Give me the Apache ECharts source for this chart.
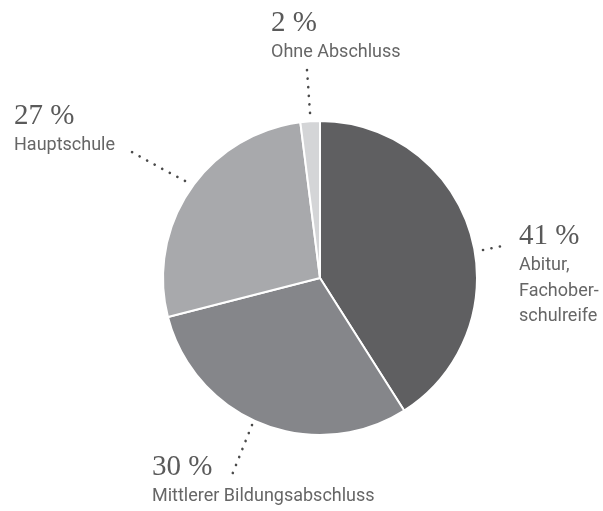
<!DOCTYPE html>
<html>
<head>
<meta charset="utf-8">
<script src="https://cdn.jsdelivr.net/npm/echarts@6/dist/echarts.min.js"></script>
<style>
html,body{margin:0;padding:0;background:#fff;}
#chart{width:603px;height:511px;}
</style>
</head>
<body>
<div id="chart"></div>
<script>
// Data
var categories = ['Abitur, Fachoberschulreife', 'Mittlerer Bildungsabschluss', 'Hauptschule', 'Ohne Abschluss'];
var values = [41, 30, 27, 2];
var labelLines = [['Abitur,', 'Fachober-', 'schulreife'], ['Mittlerer Bildungsabschluss'], ['Hauptschule'], ['Ohne Abschluss']];

// Styles / layout (not data)
var colors = ['#5f5f61', '#85868a', '#a8a9ac', '#d4d5d7'];
var labelPos = [
  {x: 519, y: 220, line: [[483, 250], [495, 247.5], [507, 245]]},
  {x: 152, y: 451, line: [[252, 425], [242, 450], [232, 475]]},
  {x: 14, y: 100, line: [[185, 181], [157, 166], [130, 151]]},
  {x: 271, y: 7, line: [[310, 113], [308.5, 91], [307, 70]]}
];

var chart = echarts.init(document.getElementById('chart'), null, {renderer: 'canvas'});
chart.setOption({
  backgroundColor: '#ffffff',
  animation: false,
  series: [{
    type: 'pie',
    center: [320, 278],
    radius: 157,
    startAngle: 90,
    clockwise: true,
    avoidLabelOverlap: false,
    itemStyle: {borderColor: '#ffffff', borderWidth: 2},
    emphasis: {disabled: true},
    data: categories.map(function (c, i) {
      return {name: c, value: values[i], itemStyle: {color: colors[i]}};
    }),
    label: {
      show: true,
      position: 'outside',
      formatter: function (p) {
        var s = '{p|' + p.value + ' %}';
        labelLines[p.dataIndex].forEach(function (l) { s += '\n{n|' + l + '}'; });
        return s;
      },
      rich: {
        p: {fontFamily: 'Liberation Serif', fontSize: 29, lineHeight: 33, color: '#5a5a5a'},
        n: {fontFamily: 'Roboto', fontSize: 18, lineHeight: 25.5, color: '#666666'}
      }
    },
    labelLine: {
      show: true,
      lineStyle: {color: '#4a4a4a', width: 2.6, type: [0.1, 8.5], cap: 'round'}
    },
    labelLayout: function (params) {
      var lp = labelPos[params.dataIndex];
      return {
        x: lp.x,
        y: lp.y,
        align: 'left',
        verticalAlign: 'top',
        labelLinePoints: lp.line
      };
    }
  }]
});
</script>
</body>
</html>
